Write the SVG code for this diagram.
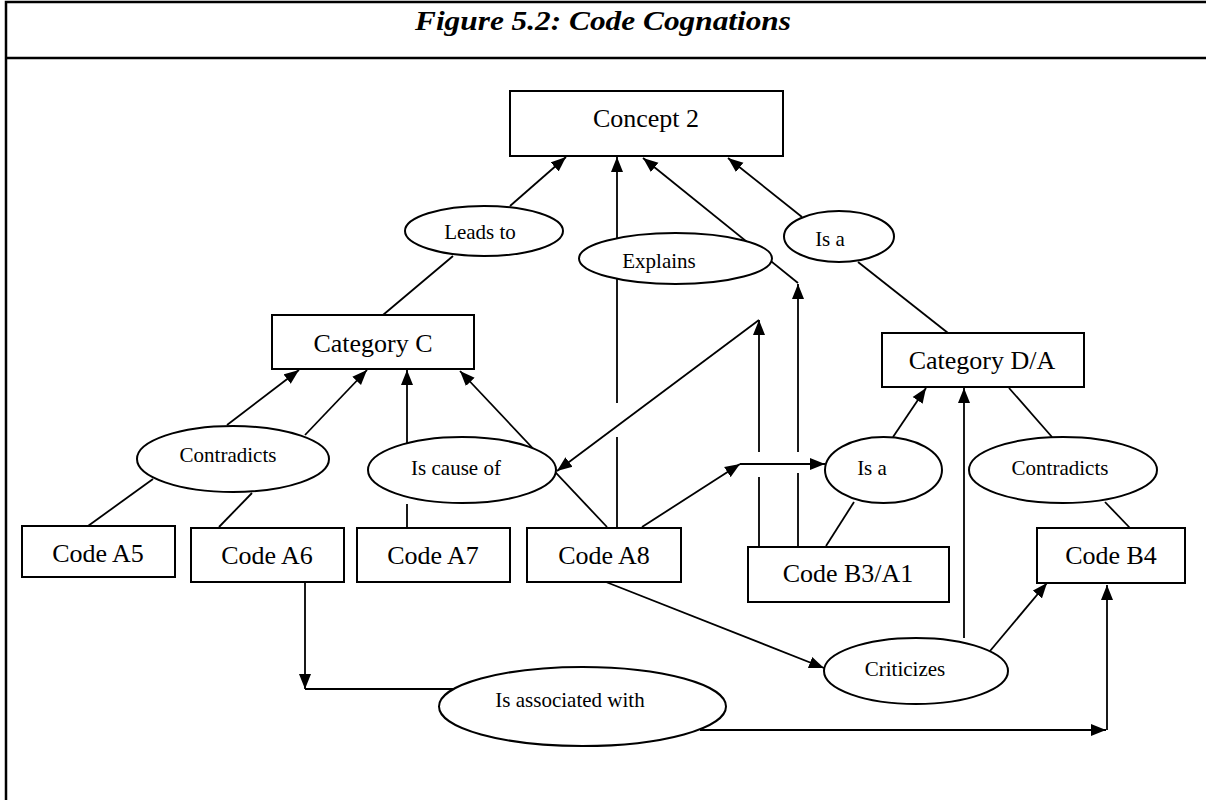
<svg xmlns="http://www.w3.org/2000/svg" width="1206" height="800" viewBox="0 0 1206 800">
<style>
.frame{stroke:#000;stroke-width:2.5;fill:none}
.box{fill:#fff;stroke:#000;stroke-width:2}
.ell{fill:#fff;stroke:#000;stroke-width:2}
.c{stroke:#000;stroke-width:1.8;fill:none}
.a{marker-end:url(#arr)}
.bt{font-family:"Liberation Serif","Times New Roman",serif;font-size:26px;text-anchor:middle;fill:#000}
.et{font-family:"Liberation Serif","Times New Roman",serif;font-size:21px;text-anchor:middle;fill:#000}
.title{font-family:"Liberation Serif","Times New Roman",serif;font-size:27px;font-weight:bold;font-style:italic;text-anchor:middle;fill:#000}
</style>
<defs>
<marker id="arr" markerUnits="userSpaceOnUse" markerWidth="16" markerHeight="13" refX="15" refY="6.5" orient="auto">
<path d="M0,0.5 L15,6.5 L0,12.5 z" fill="#000"/>
</marker>
</defs>
<rect width="1206" height="800" fill="#fff"/>
<g id="frame">
<path class="frame" d="M6,800 L6,2 L1206,2 M6,58 L1206,58"/>
<text class="title" x="603" y="30" textLength="376" lengthAdjust="spacingAndGlyphs">Figure 5.2: Code Cognations</text>
</g>
<g id="connectors">
<line class="c a" x1="510" y1="206" x2="566" y2="157"/>
<line class="c" x1="383" y1="315" x2="453" y2="256"/>
<line class="c" x1="617" y1="528" x2="617" y2="437"/>
<line class="c a" x1="617" y1="403" x2="617" y2="157"/>
<line class="c a" x1="798" y1="283" x2="643" y2="158"/>
<line class="c" x1="798" y1="547" x2="798" y2="473"/>
<line class="c a" x1="798" y1="452" x2="798" y2="284"/>
<line class="c" x1="759" y1="547" x2="759" y2="477"/>
<line class="c a" x1="759" y1="452" x2="759" y2="320"/>
<line class="c a" x1="759" y1="320" x2="557" y2="471"/>
<line class="c a" x1="642" y1="527" x2="740" y2="464"/>
<line class="c a" x1="740" y1="464" x2="825" y2="464"/>
<line class="c a" x1="893" y1="437" x2="926" y2="388"/>
<line class="c" x1="826" y1="546" x2="854" y2="502"/>
<line class="c a" x1="964" y1="638" x2="964" y2="388"/>
<line class="c" x1="1009" y1="388" x2="1052" y2="437"/>
<line class="c" x1="1105" y1="502" x2="1130" y2="528"/>
<line class="c a" x1="990" y1="651" x2="1047" y2="583"/>
<line class="c a" x1="606" y1="582" x2="824" y2="668"/>
<line class="c a" x1="305" y1="582" x2="305" y2="689"/>
<line class="c" x1="305" y1="689" x2="455" y2="689"/>
<line class="c a" x1="700" y1="730" x2="1106" y2="730"/>
<line class="c a" x1="1107" y1="730" x2="1107" y2="585"/>
<line class="c a" x1="227" y1="425" x2="299" y2="370"/>
<line class="c a" x1="305" y1="435" x2="367" y2="370"/>
<line class="c" x1="88" y1="526" x2="153" y2="479"/>
<line class="c" x1="219" y1="527" x2="252" y2="493"/>
<line class="c a" x1="407" y1="443" x2="407" y2="370"/>
<line class="c" x1="407" y1="527" x2="407" y2="504"/>
<line class="c a" x1="607" y1="527" x2="460" y2="371"/>
<line class="c a" x1="802" y1="217" x2="728" y2="158"/>
<line class="c" x1="948" y1="333" x2="858" y2="262"/>
</g>
<g id="concept2"><rect class="box" x="510" y="91" width="273" height="65"/><text class="bt" x="646" y="127">Concept 2</text></g>
<g id="categoryC"><rect class="box" x="272" y="315" width="202" height="54"/><text class="bt" x="373" y="352">Category C</text></g>
<g id="categoryDA"><rect class="box" x="882" y="333" width="202" height="54"/><text class="bt" x="982" y="369">Category D/A</text></g>
<g id="codeA5"><rect class="box" x="22" y="526" width="153" height="51"/><text class="bt" x="98" y="562">Code A5</text></g>
<g id="codeA6"><rect class="box" x="191" y="528" width="153" height="54"/><text class="bt" x="267" y="564">Code A6</text></g>
<g id="codeA7"><rect class="box" x="357" y="528" width="153" height="54"/><text class="bt" x="433" y="564">Code A7</text></g>
<g id="codeA8"><rect class="box" x="527" y="528" width="154" height="54"/><text class="bt" x="604" y="564">Code A8</text></g>
<g id="codeB3A1"><rect class="box" x="748" y="547" width="201" height="55"/><text class="bt" x="848" y="582">Code B3/A1</text></g>
<g id="codeB4"><rect class="box" x="1037" y="528" width="148" height="55"/><text class="bt" x="1111" y="564">Code B4</text></g>
<g id="leadsTo"><ellipse class="ell" cx="484" cy="231" rx="79" ry="25"/><text class="et" x="480" y="239">Leads to</text></g>
<g id="explains"><ellipse class="ell" cx="675.5" cy="258.5" rx="96.5" ry="25.5"/><text class="et" x="659" y="268">Explains</text></g>
<g id="isA1"><ellipse class="ell" cx="839" cy="236.5" rx="55" ry="25.5"/><text class="et" x="830" y="246">Is a</text></g>
<g id="contradicts1"><ellipse class="ell" cx="233" cy="459" rx="96" ry="33"/><text class="et" x="228" y="462">Contradicts</text></g>
<g id="isCauseOf"><ellipse class="ell" cx="462" cy="470" rx="94" ry="33"/><text class="et" x="456" y="475">Is cause of</text></g>
<g id="isA2"><ellipse class="ell" cx="883.5" cy="470" rx="58.5" ry="33"/><text class="et" x="872" y="475">Is a</text></g>
<g id="contradicts2"><ellipse class="ell" cx="1063" cy="470" rx="94" ry="33"/><text class="et" x="1060" y="475">Contradicts</text></g>
<g id="criticizes"><ellipse class="ell" cx="916" cy="671" rx="92" ry="33"/><text class="et" x="905" y="676">Criticizes</text></g>
<g id="isAssociatedWith"><ellipse class="ell" cx="582.5" cy="706.5" rx="143.5" ry="39.5"/><text class="et" x="570" y="707">Is associated with</text></g>
</svg>
